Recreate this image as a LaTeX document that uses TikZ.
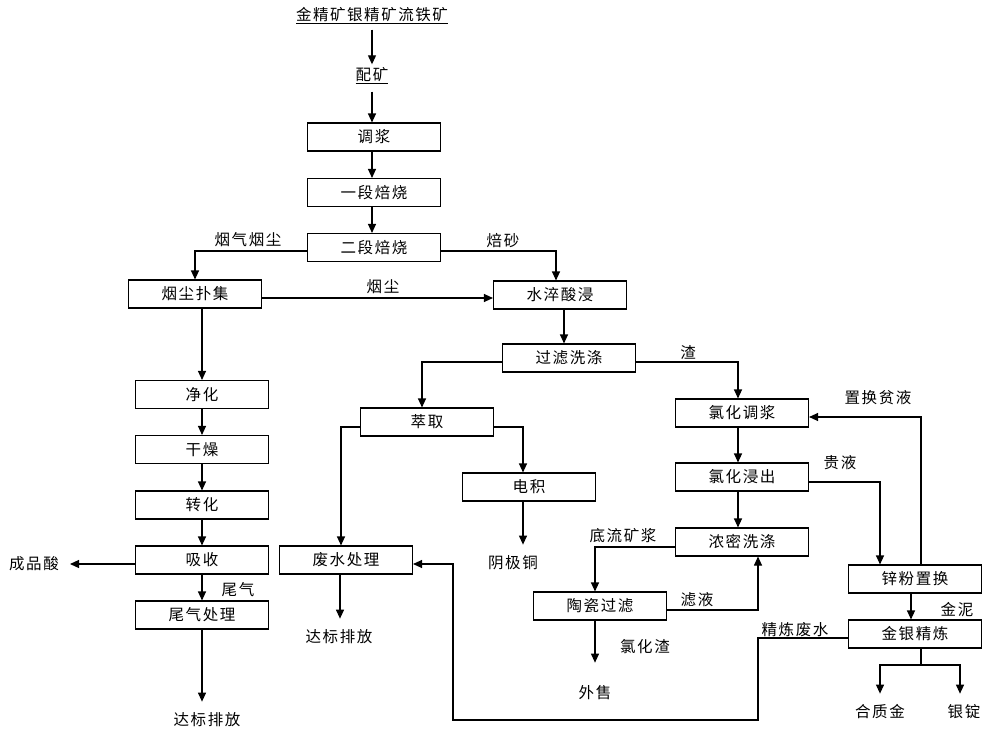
\documentclass[tikz,border=0pt]{standalone}
\usepackage{fontspec}
\setmainfont{Noto Sans CJK SC}[LetterSpace=10]
\usetikzlibrary{positioning,arrows.meta,calc}
\tikzset{
  flowarrow/.style={-{Triangle[length=9pt,width=8pt]}, line width=1.1pt},
  flowline/.style={line width=1.1pt},
  procbox/.style={draw, line width=1.1pt, minimum width=133pt, minimum height=28pt, inner sep=0pt, align=center},
  flowlabel/.style={inner sep=1pt},
  endnode/.style={inner xsep=2pt, inner ysep=11pt}
}

\begin{document}
\begin{tikzpicture}[x=1pt, y=-1pt, every node/.style={font=\fontsize{15.5}{18}\selectfont}]
  \useasboundingbox (0,0) rectangle (987,728);
  % feed and roasting
  \node (feed) at (372,16) {\underline{金精矿银精矿流铁矿}};
  \node (blend) at (372,76) {\underline{配矿}};
  \node[procbox] (pulp) at (374,137) {调浆};
  \node[procbox] (roast1) at (374,192.5) {一段焙烧};
  \node[procbox] (roast2) at (374,247.5) {二段焙烧};
  \node[procbox] (dust) at (195,294) {烟尘扑集};
  \node[procbox] (quench) at (560,295) {水淬酸浸};
  \node[procbox] (filt) at (569,358) {过滤洗涤};
  % acid line
  \node[procbox] (clean) at (202,394.5) {净化};
  \node[procbox] (dry) at (202,449.5) {干燥};
  \node[procbox] (conv) at (202,505) {转化};
  \node[procbox] (absorb) at (202,560) {吸收};
  \node[procbox] (tailgas) at (202,615) {尾气处理};
  \node[endnode, inner xsep=11pt] (acid) at (34,564) {成品酸};
  \node[endnode] (out1) at (207,720) {达标排放};
  % copper line
  \node[procbox] (extr) at (427,422) {萃取};
  \node[procbox] (ew) at (529,487) {电积};
  \node[procbox] (waste) at (346,560) {废水处理};
  \node[endnode] (cathode) at (513,563) {阴极铜};
  \node[endnode] (out2) at (339,637) {达标排放};
  % chlorination line
  \node[procbox] (clpulp) at (742,413) {氯化调浆};
  \node[procbox] (clleach) at (742,477) {氯化浸出};
  \node[procbox] (thick) at (742,542) {浓密洗涤};
  \node[procbox] (ceram) at (600,606) {陶瓷过滤};
  \node[procbox] (zinc) at (915,579) {锌粉置换};
  \node[procbox] (refine) at (915,634) {金银精炼};
  \node[endnode] (sold) at (595,693) {外售};
  \node[endnode] (dore) at (880,712) {合质金};
  \node[endnode] (ingot) at (964,712) {银锭};
  % labels
  \node[flowlabel] at (248,240) {烟气烟尘};
  \node[flowlabel] at (503,241) {焙砂};
  \node[flowlabel] at (383,287) {烟尘};
  \node[flowlabel] at (688,352) {渣};
  \node[flowlabel] at (878,398) {置换贫液};
  \node[flowlabel] at (840,463) {贵液};
  \node[flowlabel] at (623,536) {底流矿浆};
  \node[flowlabel] at (697,600) {滤液};
  \node[flowlabel] at (645,647) {氯化渣};
  \node[flowlabel] at (957,610) {金泥};
  \node[flowlabel] at (795,630) {精炼废水};
  \node[flowlabel] at (238,590) {尾气};
  % connectors
  \draw[flowarrow, shorten <=2pt] (feed.south) -- (blend.north);
  \draw[flowarrow, shorten <=4pt] (blend.south) -- (pulp.north -| blend.south);
  \draw[flowarrow] (pulp.south -| blend.south) -- (roast1.north -| blend.south);
  \draw[flowarrow] (roast1.south -| blend.south) -- (roast2.north -| blend.south);
  \draw[flowarrow] ([yshift=-3.5pt]roast2.west) -| (dust.north);
  \draw[flowarrow] ([yshift=-3.5pt]roast2.east) -| ([xshift=-4pt]quench.north);
  \draw[flowarrow] ([yshift=-4pt]dust.east) -- ([yshift=-4pt]dust.east -| quench.west);
  \draw[flowarrow] ([xshift=4pt]quench.south) -- ([xshift=4pt]quench.south |- filt.north);
  \draw[flowarrow] (dust.south -| clean.north) -- (clean.north);
  \draw[flowarrow] (clean) -- (dry);
  \draw[flowarrow] (dry) -- (conv);
  \draw[flowarrow] (conv) -- (absorb);
  \draw[flowarrow] (absorb) -- (tailgas);
  \draw[flowarrow] ([yshift=-4pt]absorb.west) -- (acid.east);
  \draw[flowarrow] (tailgas.south) -- (tailgas.south |- out1.north);
  \draw[flowarrow] ([yshift=-4pt]filt.west) -| ([xshift=-5pt]extr.north);
  \draw[flowarrow] ([yshift=-4pt]filt.east) -| ([xshift=-4pt]clpulp.north);
  \draw[flowarrow] ([yshift=-5pt]extr.west) -| ([xshift=-5pt]waste.north);
  \draw[flowarrow] ([yshift=-5pt]extr.east) -| ([xshift=-6pt]ew.north);
  \draw[flowarrow] ([xshift=-6pt]ew.south) -- ([xshift=-6pt]ew.south |- cathode.north);
  \draw[flowarrow] ([xshift=-6pt]waste.south) -- ([xshift=-6pt]waste.south |- out2.north);
  \draw[flowarrow] ([xshift=-4pt]clpulp.south) -- ([xshift=-4pt]clleach.north);
  \draw[flowarrow] ([xshift=-4pt]clleach.south) -- ([xshift=-4pt]thick.north);
  \draw[flowarrow] ([yshift=-5pt]clleach.east) -| ([xshift=-35pt]zinc.north);
  \draw[flowarrow] ([xshift=6pt]zinc.north) |- ([yshift=-4pt]clpulp.east);
  \draw[flowarrow] ([yshift=-5pt]thick.west) -| ([xshift=-5pt]ceram.north);
  \draw[flowarrow] ([yshift=-4pt]ceram.east) -| ([xshift=16pt]thick.south);
  \draw[flowarrow, shorten >=12pt] ([xshift=-5pt]ceram.south) -- ([xshift=-5pt]ceram.south |- sold.north);
  \draw[flowarrow] ([xshift=-4pt]zinc.south) -- ([xshift=-4pt]refine.north);
  \coordinate (wr1) at (758,720);
  \coordinate (wr2) at (453,720);
  \draw[flowarrow] ([yshift=-4pt]refine.west) -| (wr1) -- (wr2) |- ([yshift=-4pt]waste.east);
  \coordinate (fork) at (921,665);
  \draw[flowline] ([xshift=6pt]refine.south) -- (fork);
  \draw[flowarrow] (fork) -| (dore.north);
  \draw[flowarrow] (fork) -| ([xshift=-4pt]ingot.north);
\end{tikzpicture}
\end{document}
